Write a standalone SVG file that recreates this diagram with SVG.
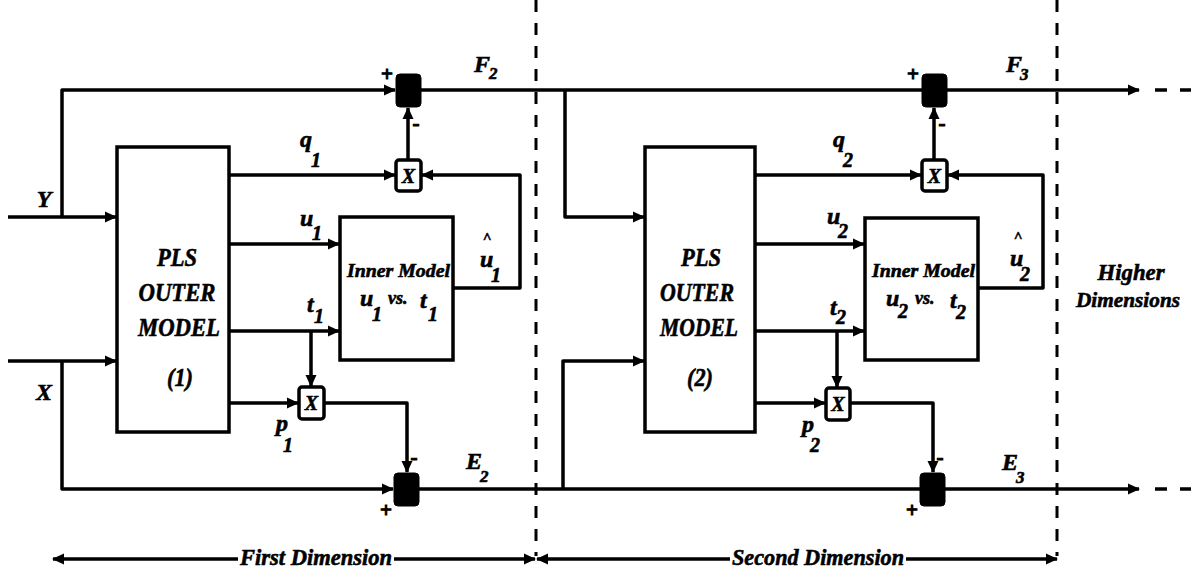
<svg xmlns="http://www.w3.org/2000/svg" width="1191" height="573" viewBox="0 0 1191 573">
<style>
.ln{fill:none;stroke:#000;stroke-width:3.5;stroke-linejoin:round}
.dsh{fill:none;stroke:#000;stroke-width:3;stroke-dasharray:12 11}
.box{fill:#fff;stroke:#000;stroke-width:3.5}
.sum{fill:#000;stroke:#000;stroke-width:1}
.t{font-family:"Liberation Serif",serif;font-weight:bold;font-style:italic;fill:#000;stroke:#000;stroke-width:0.6}
.big{font-size:26px}
.v{font-size:24px}
.s{font-size:20px}
.s2{font-size:17px}
.sg{font-size:21px;font-style:normal;stroke-width:1}
</style>
<defs>
<marker id="ar" viewBox="0 0 12 12" markerWidth="12" markerHeight="12" refX="11" refY="6" orient="auto-start-reverse" markerUnits="userSpaceOnUse">
<path d="M0,0.5 L12,6 L0,11.5 Z" fill="#000"/>
</marker>
</defs>

<g id="dividers">
<path class="dsh" d="M536,0 V556"/>
<path class="dsh" d="M1057,0 V556"/>
</g>

<g id="connectors">
<path class="ln" d="M8,217 H116" marker-end="url(#ar)"/>
<path class="ln" d="M62,217 V90 H395" marker-end="url(#ar)"/>
<path class="ln" d="M421,90 H1139" marker-end="url(#ar)"/>
<path class="ln" d="M1155,90 H1191" stroke-dasharray="12 13"/>
<path class="ln" d="M565,90 V217 H644" marker-end="url(#ar)"/>
<path class="ln" d="M229,175 H395" marker-end="url(#ar)"/>
<path class="ln" d="M229,244 H339" marker-end="url(#ar)"/>
<path class="ln" d="M229,331 H339" marker-end="url(#ar)"/>
<path class="ln" d="M311,331 V386" marker-end="url(#ar)"/>
<path class="ln" d="M229,403 H298" marker-end="url(#ar)"/>
<path class="ln" d="M324,403 H407 V472" marker-end="url(#ar)"/>
<path class="ln" d="M8,361 H116" marker-end="url(#ar)"/>
<path class="ln" d="M62,361 V489 H393" marker-end="url(#ar)"/>
<path class="ln" d="M419,489 H1139" marker-end="url(#ar)"/>
<path class="ln" d="M1155,489 H1191" stroke-dasharray="12 13"/>
<path class="ln" d="M563,489 V361 H644" marker-end="url(#ar)"/>
<path class="ln" d="M408,160 V108" marker-end="url(#ar)"/>
<path class="ln" d="M453,288 H520 V175 H422" marker-end="url(#ar)"/>
<path class="ln" d="M755,175 H921" marker-end="url(#ar)"/>
<path class="ln" d="M755,244 H864" marker-end="url(#ar)"/>
<path class="ln" d="M755,331 H864" marker-end="url(#ar)"/>
<path class="ln" d="M837,331 V387" marker-end="url(#ar)"/>
<path class="ln" d="M755,403 H825" marker-end="url(#ar)"/>
<path class="ln" d="M850,403 H933 V472" marker-end="url(#ar)"/>
<path class="ln" d="M934,160 V108" marker-end="url(#ar)"/>
<path class="ln" d="M978,288 H1043 V175 H948" marker-end="url(#ar)"/>
<path class="ln" d="M238,559 H53" marker-end="url(#ar)"/>
<path class="ln" d="M394,559 H535" marker-end="url(#ar)"/>
<path class="ln" d="M730,559 H537" marker-end="url(#ar)"/>
<path class="ln" d="M906,559 H1057" marker-end="url(#ar)"/>
</g>

<g id="pls1">
<rect class="box" x="117" y="147" width="112" height="285"/>
<text class="t big" x="177" y="266" text-anchor="middle" textLength="40" lengthAdjust="spacingAndGlyphs">PLS</text>
<text class="t big" x="177" y="301" text-anchor="middle" textLength="77" lengthAdjust="spacingAndGlyphs">OUTER</text>
<text class="t big" x="179" y="336" text-anchor="middle" textLength="82" lengthAdjust="spacingAndGlyphs">MODEL</text>
<text class="t big" x="180" y="386" text-anchor="middle" textLength="26" lengthAdjust="spacingAndGlyphs">(1)</text>
</g>

<g id="inner1">
<rect class="box" x="340" y="217" width="113" height="143"/>
<text class="t" x="347" y="277" font-size="19" textLength="103" lengthAdjust="spacingAndGlyphs">Inner Model</text>
<text class="t v" x="360" y="306">u<tspan class="s" x="372" y="321">1</tspan></text>
<text class="t" x="388" y="304" font-size="18">vs.</text>
<text class="t v" x="420" y="308">t<tspan class="s" x="428" y="321">1</tspan></text>
</g>

<g id="mult1top">
<rect class="box" x="396" y="160" width="25" height="31" rx="3"/>
<text class="t" x="408.5" y="183" font-size="20" text-anchor="middle">X</text>
</g>
<g id="mult1bot">
<rect class="box" x="299" y="387" width="25" height="32" rx="3"/>
<text class="t" x="311.5" y="410" font-size="20" text-anchor="middle">X</text>
</g>
<g id="sum1top">
<rect class="sum" x="396" y="74" width="25" height="33" rx="4"/>
<text class="t sg" x="387" y="81" text-anchor="middle">+</text>
<text class="t sg" x="416" y="130" text-anchor="middle">-</text>
</g>
<g id="sum1bot">
<rect class="sum" x="394" y="473" width="25" height="33" rx="4"/>
<text class="t sg" x="386" y="517" text-anchor="middle">+</text>
<text class="t sg" x="414" y="464" text-anchor="middle">-</text>
</g>

<g id="pls2">
<rect class="box" x="645" y="147" width="110" height="285"/>
<text class="t big" x="701" y="266" text-anchor="middle" textLength="40" lengthAdjust="spacingAndGlyphs">PLS</text>
<text class="t big" x="697" y="301" text-anchor="middle" textLength="74" lengthAdjust="spacingAndGlyphs">OUTER</text>
<text class="t big" x="699" y="336" text-anchor="middle" textLength="78" lengthAdjust="spacingAndGlyphs">MODEL</text>
<text class="t big" x="700" y="386" text-anchor="middle" textLength="26" lengthAdjust="spacingAndGlyphs">(2)</text>
</g>

<g id="inner2">
<rect class="box" x="865" y="218" width="113" height="142"/>
<text class="t" x="872" y="277" font-size="19" textLength="103" lengthAdjust="spacingAndGlyphs">Inner Model</text>
<text class="t v" x="886" y="306">u<tspan class="s" x="898" y="318">2</tspan></text>
<text class="t" x="915" y="304" font-size="18">vs.</text>
<text class="t v" x="950" y="308">t<tspan class="s" x="956" y="319">2</tspan></text>
</g>

<g id="mult2top">
<rect class="box" x="922" y="160" width="25" height="31" rx="3"/>
<text class="t" x="934.5" y="183" font-size="20" text-anchor="middle">X</text>
</g>
<g id="mult2bot">
<rect class="box" x="826" y="388" width="24" height="32" rx="3"/>
<text class="t" x="838" y="411" font-size="20" text-anchor="middle">X</text>
</g>
<g id="sum2top">
<rect class="sum" x="922" y="74" width="25" height="33" rx="4"/>
<text class="t sg" x="913" y="81" text-anchor="middle">+</text>
<text class="t sg" x="942" y="130" text-anchor="middle">-</text>
</g>
<g id="sum2bot">
<rect class="sum" x="920" y="473" width="25" height="33" rx="4"/>
<text class="t sg" x="912" y="517" text-anchor="middle">+</text>
<text class="t sg" x="940" y="464" text-anchor="middle">-</text>
</g>

<g id="labels">
<text class="t v" x="44" y="207" text-anchor="middle">Y</text>
<text class="t v" x="44" y="400" text-anchor="middle">X</text>
<text class="t v" x="474" y="72">F<tspan class="s2" x="489" y="79">2</tspan></text>
<text class="t v" x="1006" y="72">F<tspan class="s2" x="1020" y="80">3</tspan></text>
<text class="t v" x="466" y="469">E<tspan class="s2" x="480" y="482">2</tspan></text>
<text class="t v" x="1002" y="470">E<tspan class="s2" x="1016" y="483">3</tspan></text>
<text class="t v" x="300" y="147">q<tspan class="s" x="311" y="167">1</tspan></text>
<text class="t v" x="833" y="147">q<tspan class="s" x="843" y="167">2</tspan></text>
<text class="t v" x="300" y="226">u<tspan class="s" x="312" y="240">1</tspan></text>
<text class="t v" x="827" y="224">u<tspan class="s" x="838" y="238">2</tspan></text>
<text class="t v" x="307" y="312">t<tspan class="s" x="314" y="323">1</tspan></text>
<text class="t v" x="830" y="315">t<tspan class="s" x="836" y="324">2</tspan></text>
<text class="t" x="487" y="243" font-size="15" text-anchor="middle">^</text>
<text class="t v" x="480" y="267">u<tspan class="s" x="491" y="282">1</tspan></text>
<text class="t" x="1018" y="242" font-size="15" text-anchor="middle">^</text>
<text class="t v" x="1010" y="266">u<tspan class="s" x="1020" y="281">2</tspan></text>
<text class="t v" x="276" y="431">p<tspan class="s" x="283" y="452">1</tspan></text>
<text class="t v" x="802" y="432">p<tspan class="s" x="810" y="452">2</tspan></text>
<text class="t v" x="1131" y="280" text-anchor="middle" textLength="67" lengthAdjust="spacingAndGlyphs">Higher</text>
<text class="t" x="1128" y="307" font-size="22" text-anchor="middle" textLength="104" lengthAdjust="spacingAndGlyphs">Dimensions</text>
<text class="t v" x="240" y="565" textLength="152" lengthAdjust="spacingAndGlyphs">First Dimension</text>
<text class="t v" x="732" y="565" textLength="172" lengthAdjust="spacingAndGlyphs">Second Dimension</text>
</g>
</svg>
